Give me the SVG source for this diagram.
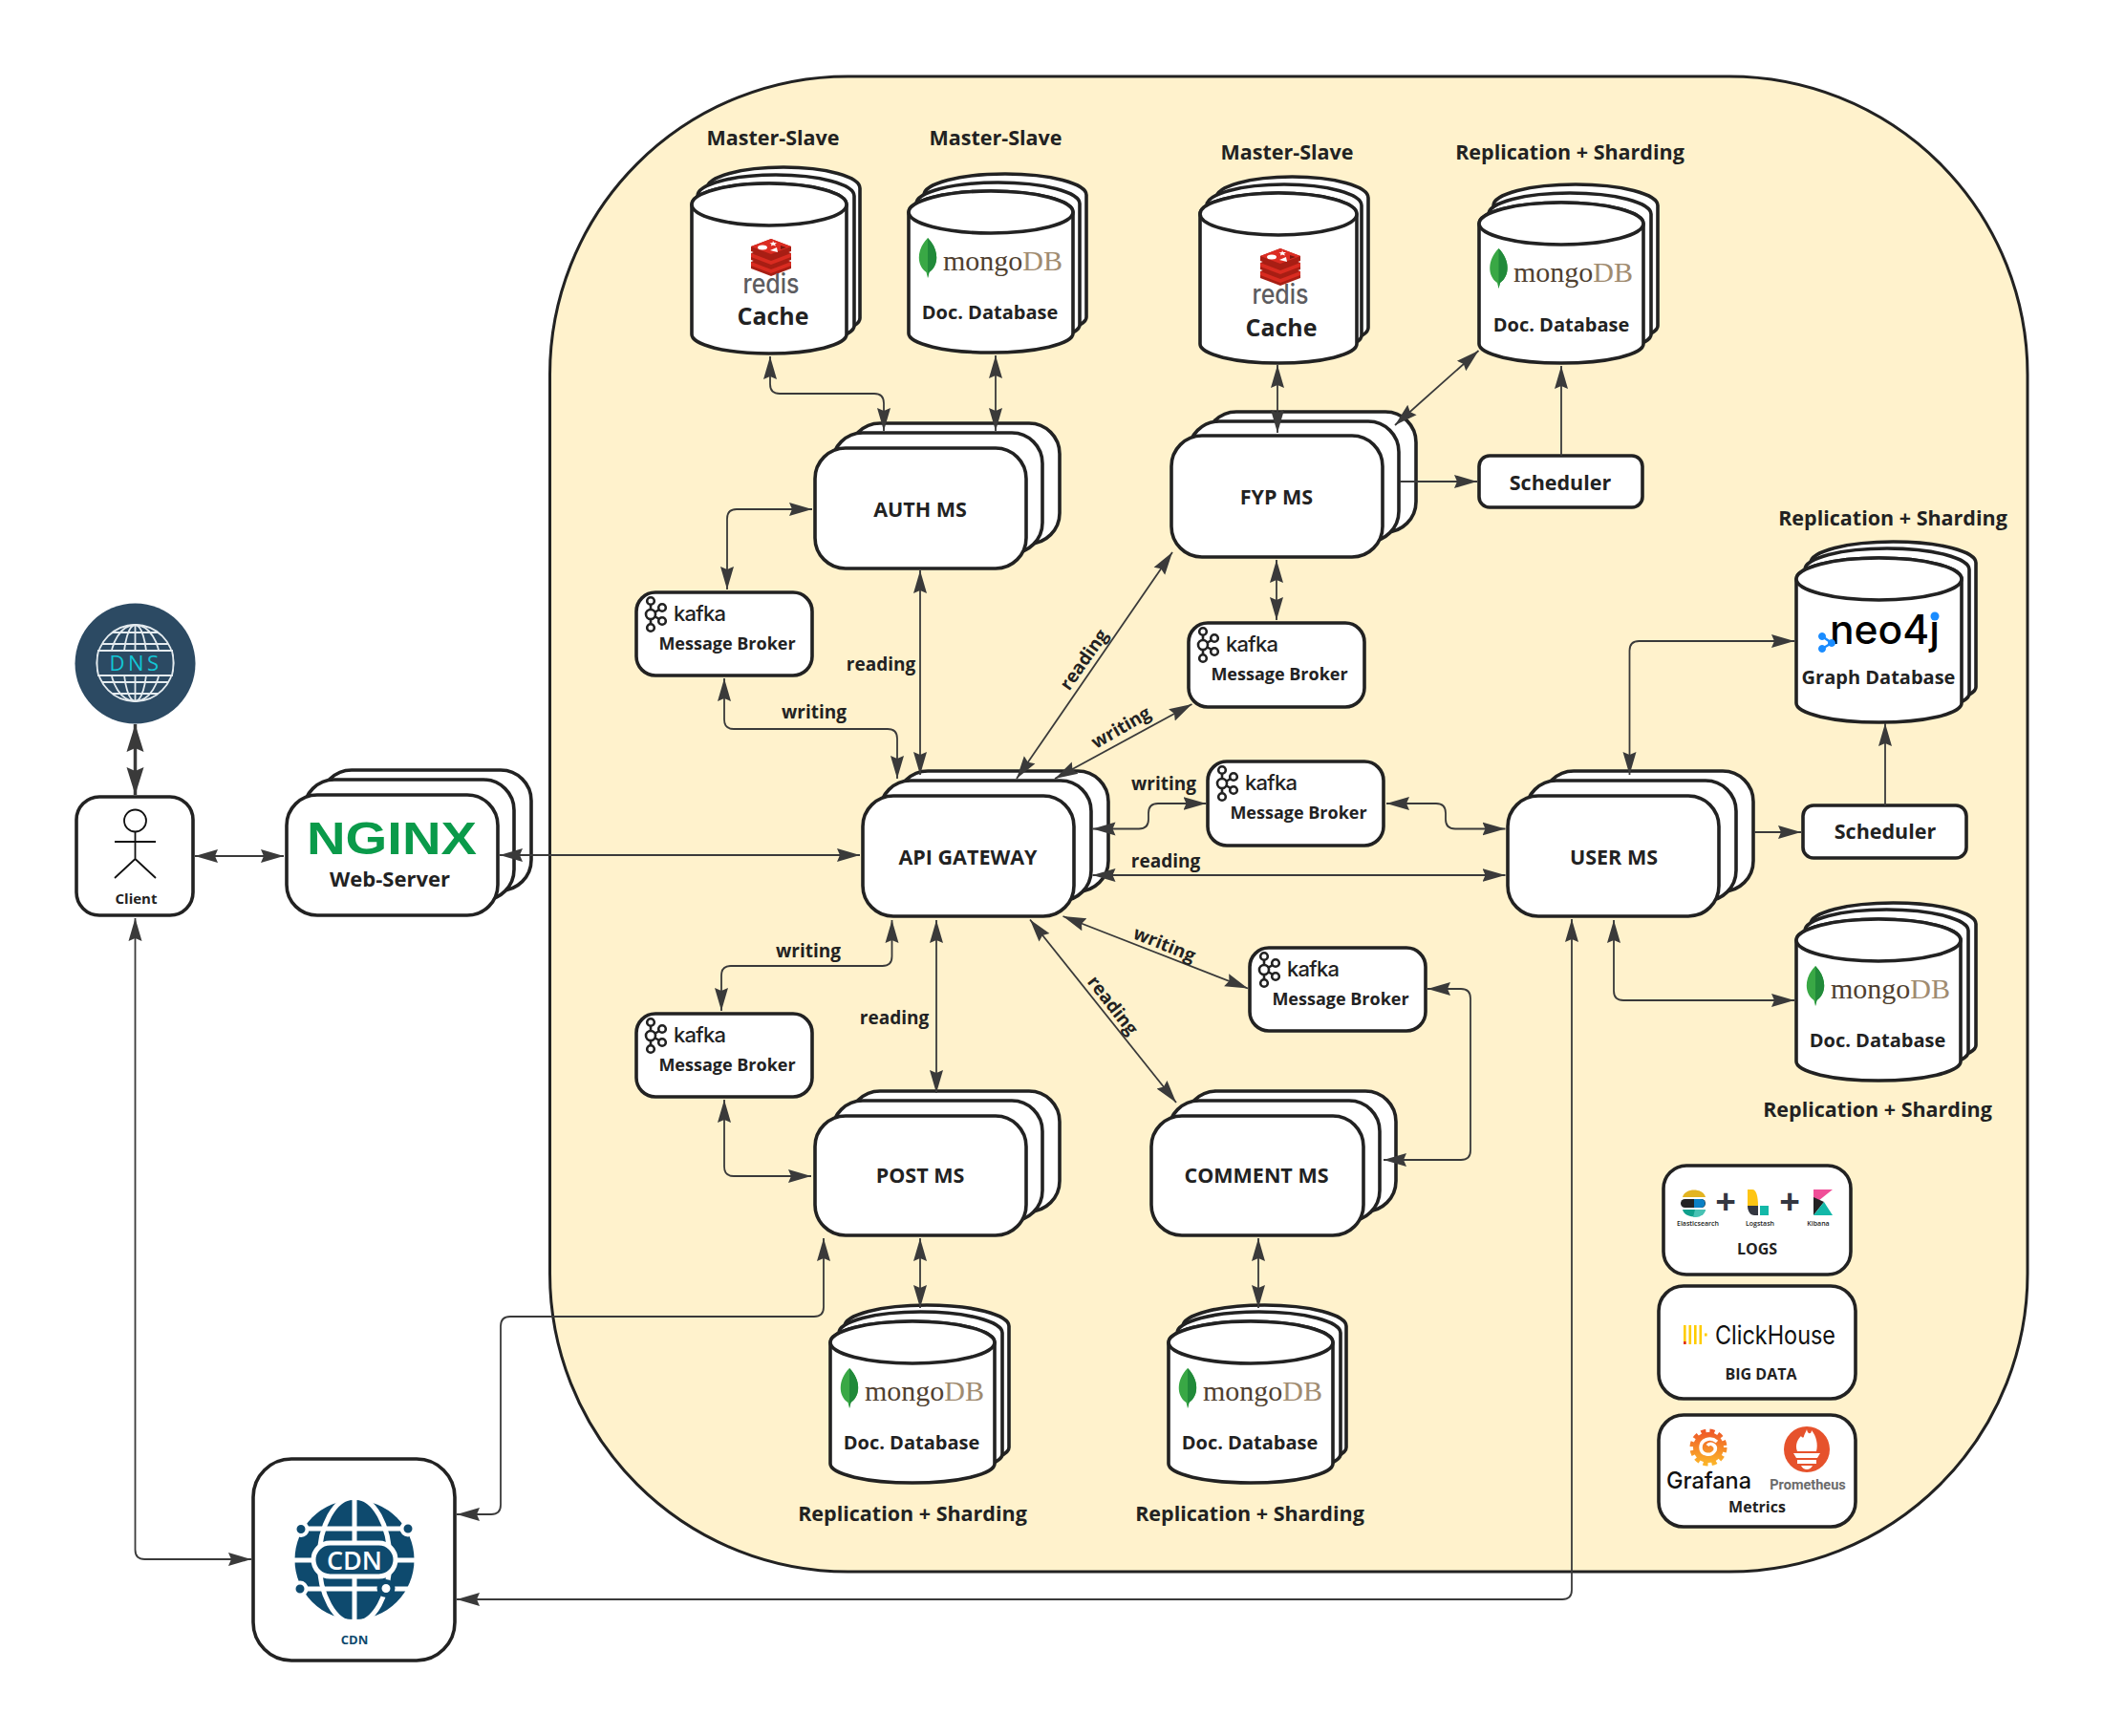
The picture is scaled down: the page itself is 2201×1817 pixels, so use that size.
<svg xmlns="http://www.w3.org/2000/svg" width="2201" height="1817" viewBox="0 0 2201 1817">
<style>
text{font-family:"Open Sans","Noto Sans","Liberation Sans",sans-serif;font-weight:700;fill:#222;text-anchor:middle}
.b{fill:#fff;stroke:#222;stroke-width:3.600;stroke-linejoin:round}
.l{fill:none;stroke:#3a3a3a;stroke-width:1.800;marker-start:url(#a);marker-end:url(#a)}
.e{fill:none;stroke:#3a3a3a;stroke-width:1.800;marker-end:url(#a)}
.t{font-size:21.500px}.m{font-size:19px}.d{font-size:20px}.k{font-size:18px}.p{font-size:16px}
.kt{font-family:Inter,"Open Sans",sans-serif;font-size:22px;font-weight:500;text-anchor:start}
.mg{font-family:"Liberation Serif",serif;font-size:30px;font-weight:400;text-anchor:start;fill:#4f3f30}
.db{fill:#a08b70}
.rd{font-family:Inter,"Open Sans",sans-serif;font-size:28px;font-weight:500;fill:#5c5c60}
.mi{font-size:7px;font-weight:600}
</style>
<defs>
<marker id="a" markerUnits="userSpaceOnUse" markerWidth="25" markerHeight="18" viewBox="0 0 25 18" refX="24" refY="9" orient="auto-start-reverse"><path d="M0 2 L24 9 L0 16 L3 9Z" fill="#3a3a3a"/></marker>
<marker id="A" markerUnits="userSpaceOnUse" markerWidth="30" markerHeight="20" viewBox="0 0 30 20" refX="29" refY="10" orient="auto-start-reverse"><path d="M0 1 L29 10 L0 19 L4 10Z" fill="#3a3a3a"/></marker>
<g id="kafka" fill="none" stroke="#222" stroke-width="2.600">
<path d="M15 13V18M15 28V33M19 21L24 18M19 25L24 28"/>
<circle cx="15" cy="9" r="3.800"/><circle cx="15" cy="23" r="5"/><circle cx="15" cy="37" r="3.800"/><circle cx="27" cy="16" r="3.800"/><circle cx="27" cy="30" r="3.800"/>
</g>
<g id="leaf"><path d="M0 -21C12 -9 12 8 1.500 15L0 21L-1.500 15C-12 8 -12 -9 0 -21Z" fill="#39a845"/><path d="M0 -21C12 -9 12 8 1.500 15L0 21Z" fill="#218a3a"/></g>
<g id="rcube">
<path d="M-21 6L0 -2L21 6V13L0 21L-21 13Z" fill="#a81e14"/><path d="M-21 6L0 14L21 6V10L0 18L-21 10Z" fill="#d92b20"/>
<path d="M-21 -3L0 -11L21 -3V4L0 12L-21 4Z" fill="#a81e14"/><path d="M-21 -3L0 5L21 -3V1L0 9L-21 1Z" fill="#d92b20"/>
<path d="M-21 -10L0 -18L21 -10V-5L0 3L-21 -5Z" fill="#a81e14"/><path d="M-21 -10L0 -18L21 -10L0 -2Z" fill="#dc2c22"/>
<ellipse cx="-9" cy="-9" rx="5" ry="2.500" fill="#fff"/><path d="M2 -16l1 2 3 0-2 1.500 1 2-3-1-2 1 .5-2-2-1 3-.5Z" fill="#fff"/><path d="M-1 -6L6 -9L7 -4Z" fill="#fff"/><path d="M10 -11L16 -9L10 -7Z" fill="#7a1710"/>
</g>
<linearGradient id="gf" x1="0" y1="1" x2="0" y2="0"><stop offset="0" stop-color="#fbb32a"/><stop offset="1" stop-color="#ef5a28"/></linearGradient>
</defs>
<rect width="2201" height="1817" fill="#fff"/>
<rect id="region" x="575.500" y="80" width="1546.500" height="1565" rx="312" ry="312" fill="#fff2cc" stroke="#222" stroke-width="3"/>

<g id="dns">
<circle cx="141.500" cy="694.500" r="63" fill="#2c4a63"/>
<g fill="none" stroke="#e4ebef" stroke-width="1.800">
<circle cx="141.500" cy="694" r="40"/><ellipse cx="141.500" cy="694" rx="26" ry="40"/><ellipse cx="141.500" cy="694" rx="12" ry="40"/>
<path d="M141.500 654V734M107 674H176M102 681H181M102 707H181M107 714H176M118 662H165M118 726H165"/>
</g>
<path d="M103 681H180Q183 694 180 707H103Q100 694 103 681Z" fill="#2c4a63" stroke="#e4ebef" stroke-width="1.800"/>
<text x="142" y="702" font-size="22" letter-spacing="3.500" style="fill:#12c6d6;font-weight:400">DNS</text>
</g>

<g id="client">
<rect class="b" x="80" y="834" width="122" height="124" rx="24"/>
<g fill="none" stroke="#111" stroke-width="1.800"><circle cx="141.500" cy="859" r="11.500"/><path d="M141.500 870.500V899M120 881H163M141.500 899L120 919M141.500 899L163 919"/></g>
<text x="142.500" y="946" font-size="15">Client</text>
</g>

<g id="nginx">
<rect class="b" x="336" y="806" width="220" height="126" rx="32"/>
<rect class="b" x="318" y="816" width="220" height="126" rx="32"/>
<rect class="b" x="300" y="832" width="221" height="126" rx="32"/>
<text x="410" y="894" font-size="48" textLength="178" lengthAdjust="spacingAndGlyphs" style="font-family:'Liberation Sans',sans-serif;fill:#0a9a4a">NGINX</text>
<text x="408" y="928" font-size="22">Web-Server</text>
</g>

<g id="api-gateway">
<rect class="b" x="939" y="807" width="221" height="126" rx="32"/>
<rect class="b" x="921" y="817" width="221" height="126" rx="32"/>
<rect class="b" x="903" y="833" width="221" height="126" rx="32"/>
<text class="t" x="1013" y="905">API GATEWAY</text>
</g>

<g id="auth-ms">
<rect class="b" x="889" y="443" width="220" height="126" rx="32"/>
<rect class="b" x="871" y="453" width="220" height="126" rx="32"/>
<rect class="b" x="853" y="469" width="221" height="126" rx="32"/>
<text class="t" x="963" y="541">AUTH MS</text>
</g>

<g id="fyp-ms">
<rect class="b" x="1262" y="431" width="220" height="126" rx="32"/>
<rect class="b" x="1244" y="441" width="220" height="126" rx="32"/>
<rect class="b" x="1226" y="456" width="221" height="127" rx="32"/>
<text class="t" x="1336" y="528">FYP MS</text>
</g>

<g id="user-ms">
<rect class="b" x="1615" y="807" width="220" height="126" rx="32"/>
<rect class="b" x="1597" y="817" width="220" height="126" rx="32"/>
<rect class="b" x="1578" y="833" width="221" height="126" rx="32"/>
<text class="t" x="1689" y="905">USER MS</text>
</g>

<g id="post-ms">
<rect class="b" x="889" y="1142" width="220" height="126" rx="32"/>
<rect class="b" x="871" y="1152" width="220" height="126" rx="32"/>
<rect class="b" x="853" y="1168" width="221" height="125" rx="32"/>
<text class="t" x="963" y="1238">POST MS</text>
</g>

<g id="comment-ms">
<rect class="b" x="1241" y="1142" width="220" height="126" rx="32"/>
<rect class="b" x="1223" y="1152" width="221" height="126" rx="32"/>
<rect class="b" x="1205" y="1168" width="222" height="125" rx="32"/>
<text class="t" x="1315" y="1238">COMMENT MS</text>
</g>

<g id="cache-auth">
<text class="t" x="809" y="152">Master-Slave</text>
<path class="b" d="M740 197A80 22 0 0 1 900 197V333A80 20 0 0 1 740 333Z"/>
<path class="b" d="M730 205A82 22 0 0 1 894 205V341A82 20 0 0 1 730 341Z"/>
<path class="b" d="M724 214A81 22 0 0 1 886 214V350A81 20 0 0 1 724 350Z"/><ellipse class="b" cx="805" cy="214" rx="81" ry="22"/>
<use href="#rcube" x="807" y="268"/>
<text class="rd" x="807" y="307" textLength="59" lengthAdjust="spacingAndGlyphs">redis</text>
<text x="809" y="340" font-size="25">Cache</text>
</g>

<g id="mongo-auth">
<text class="t" x="1042" y="152">Master-Slave</text>
<path class="b" d="M967 204A85 22 0 0 1 1137 204V332A85 20 0 0 1 967 332Z"/>
<path class="b" d="M959 213A85.500 22 0 0 1 1130 213V340A85.500 20 0 0 1 959 340Z"/>
<path class="b" d="M951 222A86 22 0 0 1 1123 222V349A86 20 0 0 1 951 349Z"/><ellipse class="b" cx="1037" cy="222" rx="86" ry="22"/>
<use href="#leaf" x="971" y="270"/>
<text class="mg" x="987" y="283">mongo<tspan class="db">DB</tspan></text>
<text class="d" x="1036" y="334">Doc. Database</text>
</g>

<g id="cache-fyp">
<text class="t" x="1347" y="167">Master-Slave</text>
<path class="b" d="M1273 207A79.500 22 0 0 1 1432 207V343A79.500 20 0 0 1 1273 343Z"/>
<path class="b" d="M1263 215A81 22 0 0 1 1425 215V351A81 20 0 0 1 1263 351Z"/>
<path class="b" d="M1256 224A82 22 0 0 1 1420 224V360A82 20 0 0 1 1256 360Z"/><ellipse class="b" cx="1338" cy="224" rx="82" ry="22"/>
<use href="#rcube" x="1340" y="278"/>
<text class="rd" x="1340" y="318" textLength="59" lengthAdjust="spacingAndGlyphs">redis</text>
<text x="1341" y="352" font-size="25">Cache</text>
</g>

<g id="mongo-fyp">
<text class="t" x="1643" y="167">Replication + Sharding</text>
<path class="b" d="M1563 215A86 22 0 0 1 1735 215V341A86 20 0 0 1 1563 341Z"/>
<path class="b" d="M1558 224A85 22 0 0 1 1728 224V350A85 20 0 0 1 1558 350Z"/>
<path class="b" d="M1548 234A86 22 0 0 1 1720 234V360A86 20 0 0 1 1548 360Z"/><ellipse class="b" cx="1634" cy="234" rx="86" ry="22"/>
<use href="#leaf" x="1568.500" y="281"/>
<text class="mg" x="1584" y="295">mongo<tspan class="db">DB</tspan></text>
<text class="d" x="1634" y="347">Doc. Database</text>
</g>

<g id="scheduler-fyp">
<rect class="b" x="1548" y="477" width="171" height="54" rx="11"/>
<text class="t" x="1633" y="513">Scheduler</text>
</g>

<g id="neo4j-user">
<text class="t" x="1981" y="550">Replication + Sharding</text>
<path class="b" d="M1895 589A86.500 22 0 0 1 2068 589V719A86.500 20 0 0 1 1895 719Z"/>
<path class="b" d="M1889 596A86 22 0 0 1 2061 596V726A86 20 0 0 1 1889 726Z"/>
<path class="b" d="M1880 606A86.500 22 0 0 1 2053 606V736A86.500 20 0 0 1 1880 736Z"/><ellipse class="b" cx="1966.500" cy="606" rx="86.500" ry="22"/>
<text x="1915" y="674" font-size="42" textLength="115" lengthAdjust="spacingAndGlyphs" style="font-family:Inter,sans-serif;font-weight:500;fill:#000;text-anchor:start">neo4j</text>
<circle cx="2025" cy="645" r="4.500" fill="#1a8cff"/>
<g fill="#1a8cff" stroke="#1a8cff"><path d="M1907 666L1917 673L1907 679" fill="none" stroke-width="2.500"/><circle cx="1907" cy="666" r="3.500"/><circle cx="1907" cy="679" r="3.500"/><circle cx="1917" cy="673" r="3.500"/></g>
<text class="d" x="1966" y="716">Graph Database</text>
</g>

<g id="scheduler-user">
<rect class="b" x="1887" y="843" width="171" height="55" rx="11"/>
<text class="t" x="1973" y="878">Scheduler</text>
</g>

<g id="mongo-user">
<text class="t" x="1965" y="1169">Replication + Sharding</text>
<path class="b" d="M1895 967A86.500 22 0 0 1 2068 967V1094A86.500 20 0 0 1 1895 1094Z"/>
<path class="b" d="M1889 974A85.500 22 0 0 1 2060 974V1101A85.500 20 0 0 1 1889 1101Z"/>
<path class="b" d="M1880 984A86 22 0 0 1 2052 984V1111A86 20 0 0 1 1880 1111Z"/><ellipse class="b" cx="1966" cy="984" rx="86" ry="22"/>
<use href="#leaf" x="1900" y="1032"/>
<text class="mg" x="1916" y="1045">mongo<tspan class="db">DB</tspan></text>
<text class="d" x="1965" y="1096">Doc. Database</text>
</g>

<g id="mongo-post">
<text class="t" x="955" y="1592">Replication + Sharding</text>
<path class="b" d="M884 1388A86 22 0 0 1 1056 1388V1515A86 20 0 0 1 884 1515Z"/>
<path class="b" d="M878 1395A85.500 22 0 0 1 1049 1395V1522A85.500 20 0 0 1 878 1522Z"/>
<path class="b" d="M869 1405A86 22 0 0 1 1041 1405V1532A86 20 0 0 1 869 1532Z"/><ellipse class="b" cx="955" cy="1405" rx="86" ry="22"/>
<use href="#leaf" x="889" y="1453"/>
<text class="mg" x="905" y="1466">mongo<tspan class="db">DB</tspan></text>
<text class="d" x="954" y="1517">Doc. Database</text>
</g>

<g id="mongo-comment">
<text class="t" x="1308" y="1592">Replication + Sharding</text>
<path class="b" d="M1238 1388A85.500 22 0 0 1 1409 1388V1515A85.500 20 0 0 1 1238 1515Z"/>
<path class="b" d="M1232 1395A85.500 22 0 0 1 1403 1395V1522A85.500 20 0 0 1 1232 1522Z"/>
<path class="b" d="M1223 1405A86 22 0 0 1 1395 1405V1532A86 20 0 0 1 1223 1532Z"/><ellipse class="b" cx="1309" cy="1405" rx="86" ry="22"/>
<use href="#leaf" x="1243" y="1453"/>
<text class="mg" x="1259" y="1466">mongo<tspan class="db">DB</tspan></text>
<text class="d" x="1308" y="1517">Doc. Database</text>
</g>

<g id="kafka-auth">
<rect class="b" x="666" y="620" width="184" height="87" rx="20"/><use href="#kafka" x="666" y="620"/>
<text class="kt" x="705" y="650" textLength="55">kafka</text><text class="k" x="761" y="680">Message Broker</text>
</g>
<g id="kafka-fyp">
<rect class="b" x="1244" y="652" width="184" height="88" rx="20"/><use href="#kafka" x="1244" y="652"/>
<text class="kt" x="1283" y="682" textLength="55">kafka</text><text class="k" x="1339" y="712">Message Broker</text>
</g>
<g id="kafka-user">
<rect class="b" x="1264" y="797" width="184" height="88" rx="20"/><use href="#kafka" x="1264" y="797"/>
<text class="kt" x="1303" y="827" textLength="55">kafka</text><text class="k" x="1359" y="857">Message Broker</text>
</g>
<g id="kafka-comment">
<rect class="b" x="1308" y="992" width="184" height="87" rx="20"/><use href="#kafka" x="1308" y="992"/>
<text class="kt" x="1347" y="1022" textLength="55">kafka</text><text class="k" x="1403" y="1052">Message Broker</text>
</g>
<g id="kafka-post">
<rect class="b" x="666" y="1061" width="184" height="87" rx="20"/><use href="#kafka" x="666" y="1061"/>
<text class="kt" x="705" y="1091" textLength="55">kafka</text><text class="k" x="761" y="1121">Message Broker</text>
</g>

<g id="logs">
<rect class="b" x="1741" y="1220" width="196" height="114" rx="24"/>
<path d="M1761 1253C1763 1243 1783 1243 1785 1253Z" fill="#e3b421"/>
<rect x="1759" y="1255" width="26" height="9" rx="4.500" fill="#222"/><path d="M1773 1255H1780A4.500 4.500 0 0 1 1780 1264H1773Z" fill="#0a80c4"/>
<path d="M1761 1266H1785C1783 1276 1763 1276 1761 1266Z" fill="#10a08c"/><path d="M1774 1266H1785C1784 1272 1779 1274 1772 1274Z" fill="#48c2b4"/>
<text x="1806" y="1271" font-size="38" style="fill:#343741">+</text>
<path d="M1829 1245H1834C1838 1245 1840 1252 1840 1262H1829Z" fill="#fec514"/><path d="M1829 1262H1840V1272H1836C1832 1272 1829 1268 1829 1262Z" fill="#343741"/><rect x="1842" y="1262" width="9" height="10" fill="#13b8a8"/>
<text x="1873" y="1271" font-size="38" style="fill:#343741">+</text>
<path d="M1898 1245H1918L1898 1261Z" fill="#f04e98"/><path d="M1898 1253L1909 1258L1898 1272Z" fill="#222"/><path d="M1898 1272L1909 1258L1918 1272Z" fill="#13b8a8"/>
<text class="mi" x="1777" y="1283">Elasticsearch</text><text class="mi" x="1842" y="1283">Logstash</text><text class="mi" x="1903" y="1283">Kibana</text>
<text class="p" x="1839" y="1313">LOGS</text>
</g>

<g id="big-data">
<rect class="b" x="1736" y="1346" width="206" height="118" rx="26"/>
<g fill="#fc0"><rect x="1762" y="1387" width="2.600" height="20"/><rect x="1767.500" y="1387" width="2.600" height="20"/><rect x="1773" y="1387" width="2.600" height="20"/><rect x="1778.500" y="1387" width="2.600" height="20"/><rect x="1784" y="1395.500" width="2.600" height="3"/></g>
<rect x="1762" y="1404" width="2.600" height="3" fill="#e0301e"/>
<text x="1858" y="1407" font-size="27" textLength="126" lengthAdjust="spacingAndGlyphs" style="font-family:Inter,sans-serif;font-weight:400;fill:#111">ClickHouse</text>
<text class="p" x="1843" y="1444">BIG DATA</text>
</g>

<g id="metrics">
<rect class="b" x="1736" y="1481" width="206" height="117" rx="26"/>
<circle cx="1788" cy="1515" r="16" fill="url(#gf)"/>
<circle cx="1788" cy="1515" r="17" fill="none" stroke="url(#gf)" stroke-width="5" stroke-dasharray="5 4"/>
<path d="M1797 1509C1790 1503 1780 1507 1780 1515C1780 1523 1791 1525 1795 1518C1797 1513 1790 1509 1787 1513" fill="none" stroke="#fff" stroke-width="3.500"/>
<text x="1788.500" y="1558" font-size="24" textLength="89" lengthAdjust="spacingAndGlyphs" style="font-family:Inter,sans-serif;font-weight:500;fill:#111">Grafana</text>
<circle cx="1891" cy="1517" r="24" fill="#e6522c"/>
<path d="M1891 1496C1892 1502 1896 1501 1896 1497C1901 1503 1903 1512 1901 1519H1881C1878 1512 1882 1506 1885 1503C1886 1505 1888 1505 1888 1503C1889 1500 1890 1499 1891 1496Z" fill="#fff"/>
<path d="M1877 1521H1905L1902 1526H1880ZM1881 1528H1901V1532H1881ZM1885 1534H1897Q1895 1538 1891 1538Q1887 1538 1885 1534Z" fill="#fff"/>
<text x="1892" y="1559" font-size="14.500" style="font-family:Roboto,sans-serif;fill:#6b6b6b">Prometheus</text>
<text class="p" x="1839" y="1583">Metrics</text>
</g>

<g id="cdn">
<rect x="265" y="1527" width="211" height="211" rx="40" fill="#fff" stroke="#222" stroke-width="3.600"/>
<circle cx="371" cy="1632.500" r="62.500" fill="#0e4a6e"/>
<g fill="none" stroke="#fff" stroke-width="5"><path d="M371 1570V1695M308 1600H434M308 1633H434M308 1663H434"/><ellipse cx="371" cy="1633" rx="37" ry="66"/></g>
<rect x="328" y="1615" width="86" height="35" rx="17.500" fill="#0e4a6e" stroke="#fff" stroke-width="5"/>
<text x="371" y="1643" font-size="27" style="fill:#fff;font-weight:600">CDN</text>
<g fill="#0e4a6e" stroke="#fff" stroke-width="4"><circle cx="315" cy="1600.500" r="6.500"/><circle cx="427" cy="1600" r="6.500"/><circle cx="314" cy="1663" r="6.500"/></g>
<circle cx="404" cy="1662.500" r="7" fill="#fff" stroke="#0e4a6e" stroke-width="5"/>
<text x="371" y="1721" font-size="13" style="fill:#0e4a6e">CDN</text>
</g>

<g id="connectors">
<path d="M141.500 758V832" fill="none" stroke="#3a3a3a" stroke-width="3.500" marker-start="url(#A)" marker-end="url(#A)"/>
<path class="l" d="M204 896H297"/>
<path class="l" d="M523 895H900"/>
<path class="l" d="M141.500 961V1622Q141.500 1632 151.500 1632H263"/>
<path class="l" d="M478 1585H514Q524 1585 524 1575V1388Q524 1378 534 1378H852Q862 1378 862 1368V1296"/>
<path class="l" d="M478 1674H1635Q1645 1674 1645 1664V962"/>
<path class="l" d="M806 373V402Q806 412 816 412H915Q925 412 925 422V451"/>
<path class="l" d="M1042 372V451"/>
<path class="l" d="M761 617V543Q761 533 771 533H850"/>
<path class="l" d="M963 597V811"/>
<path class="l" d="M758 710V753Q758 763 768 763H929Q939 763 939 773V815"/>
<path class="l" d="M1337 382V453"/>
<path class="l" d="M1460 445L1547.500 367"/>
<path class="e" d="M1465 504H1546"/>
<path class="e" d="M1634 477V383"/>
<path class="l" d="M1336 586V649"/>
<path class="l" d="M1064 815L1227 578"/>
<path class="l" d="M1104 815L1247.500 737"/>
<path class="l" d="M1143.500 867.500H1192Q1202 867.500 1202 857.500V851Q1202 841 1212 841H1262.500"/>
<path class="l" d="M1451 841H1503Q1513 841 1513 851V857.500Q1513 867.500 1523 867.500H1575.500"/>
<path class="l" d="M1143.500 916H1575.500"/>
<path class="l" d="M1112.500 959L1306 1034.500"/>
<path class="l" d="M1078 962.500L1231 1154"/>
<path class="l" d="M1494 1035H1529Q1539 1035 1539 1045V1204Q1539 1214 1529 1214H1448"/>
<path class="l" d="M933.500 963V1001Q933.500 1011 923.500 1011H765Q755 1011 755 1021V1058"/>
<path class="l" d="M980 963V1144"/>
<path class="l" d="M758 1151V1221Q758 1231 768 1231H849"/>
<path class="l" d="M963 1296V1369"/>
<path class="l" d="M1317 1296V1369"/>
<path class="l" d="M1705.500 811V681Q1705.500 671 1715.500 671H1878"/>
<path class="l" d="M1689 963V1037Q1689 1047 1699 1047H1878"/>
<path class="e" d="M1836 871H1885"/>
<path class="e" d="M1973 843V757"/>
</g>

<g id="edge-labels">
<text class="m" x="922" y="702">reading</text>
<text class="m" x="852" y="752">writing</text>
<text class="m" transform="translate(1134 690) rotate(-55)" y="7">reading</text>
<text class="m" transform="translate(1173 761) rotate(-30)" y="7">writing</text>
<text class="m" x="1218" y="827">writing</text>
<text class="m" x="1220" y="908">reading</text>
<text class="m" x="846" y="1002">writing</text>
<text class="m" x="936" y="1072">reading</text>
<text class="m" transform="translate(1219 988) rotate(22)" y="7">writing</text>
<text class="m" transform="translate(1165 1052) rotate(52)" y="7">reading</text>
</g>
</svg>
